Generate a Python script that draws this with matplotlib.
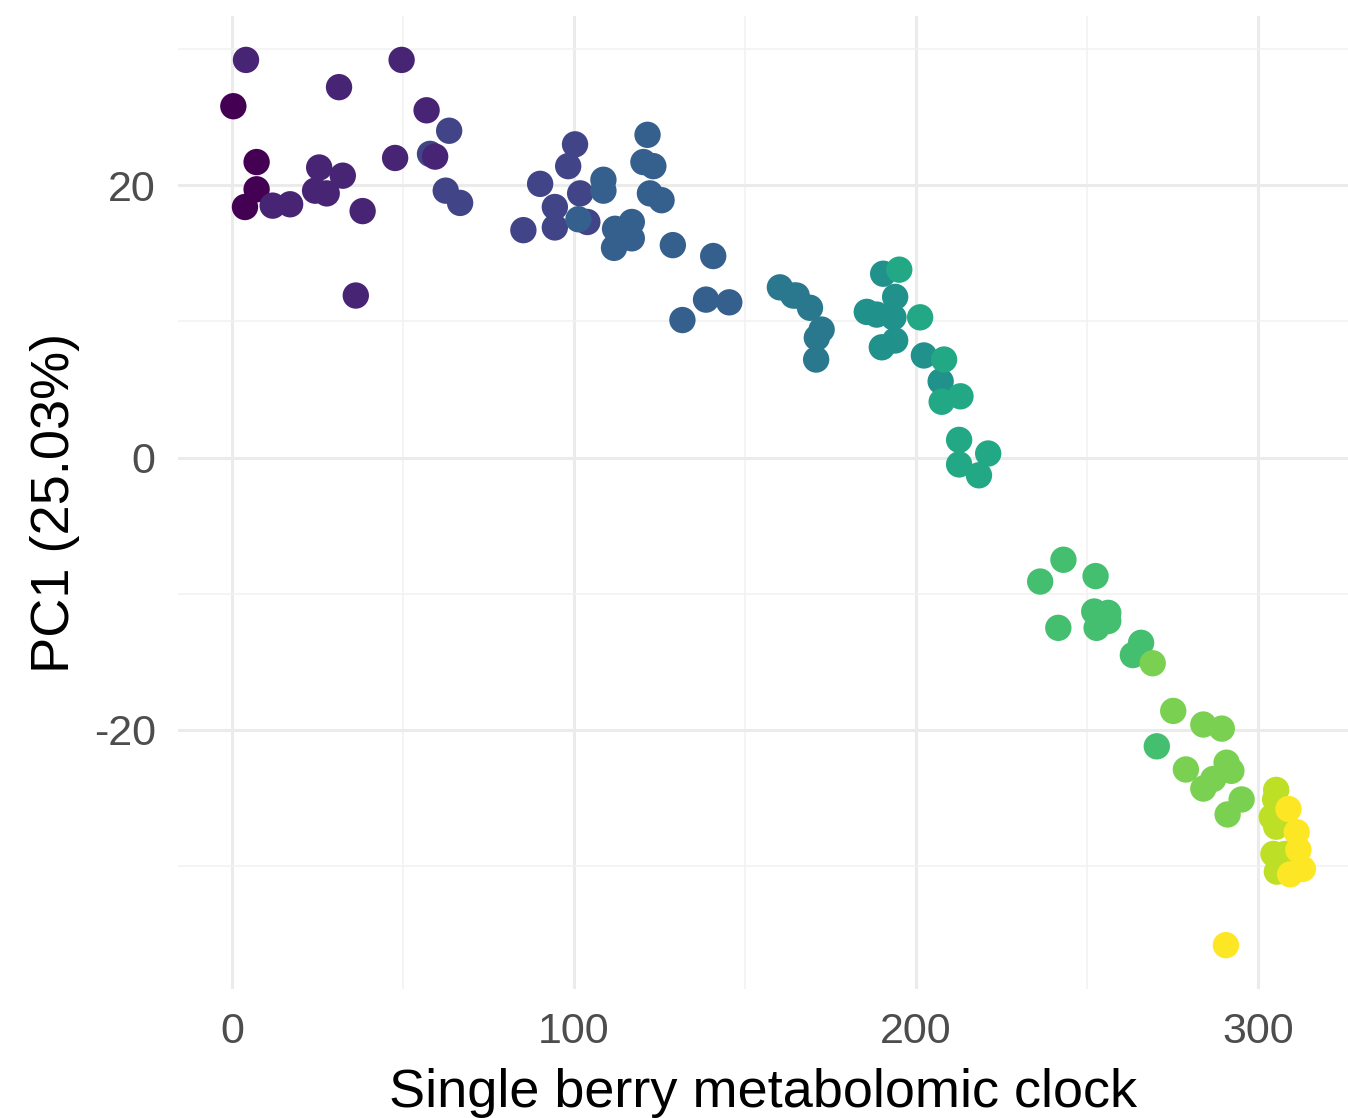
import matplotlib
matplotlib.use("Agg")
import matplotlib.pyplot as plt
import numpy as np

# metabolomic clock (x), PC1 score (y), colour level 0..10
clock = [
    4.1, 0.4, 49.6, 31.3, 56.9, 63.5, 57.9, 59.4, 47.7, 7.2,
    25.5, 32.4, 24.3, 27.7, 7.2, 3.8, 11.9, 17.0, 38.2, 62.5,
    66.7, 36.2,
    100.3, 98.3, 90.1, 101.8, 94.4, 94.4, 85.2, 103.9,
    108.6, 108.6, 101.3, 121.5, 120.3, 123.2, 122.2, 125.6, 112.0, 116.9,
    116.9, 111.7, 128.9, 140.7, 138.6, 145.4, 131.7,
    160.2, 164.1, 165.1, 169.0, 172.4, 171.0, 170.8,
    190.4, 193.9, 185.6, 188.5, 193.4, 190.0, 193.9, 202.3, 207.2,
    195.1, 201.2, 208.2, 207.5, 213.0, 212.6, 212.6, 218.4, 221.1,
    236.3, 243.1, 252.5, 241.6, 252.1, 256.2, 252.8, 256.2, 265.8, 263.4, 270.4,
    269.2, 275.2, 284.0, 289.4, 278.9, 290.8, 292.2, 284.0, 286.9, 295.2, 291.1,
    305.3, 305.0, 304.0, 305.3, 304.5, 307.9, 305.5,
    290.6, 308.9, 311.3, 311.8, 313.1, 309.4,
]
pc1 = [
    29.2, 25.8, 29.2, 27.2, 25.5, 24.0, 22.3, 22.1, 22.0, 21.7,
    21.3, 20.7, 19.6, 19.4, 19.7, 18.4, 18.5, 18.6, 18.1, 19.6,
    18.7, 11.9,
    23.0, 21.4, 20.1, 19.4, 18.4, 16.9, 16.7, 17.3,
    20.4, 19.6, 17.5, 23.7, 21.7, 21.4, 19.4, 18.9, 16.8, 17.3,
    16.1, 15.4, 15.6, 14.8, 11.6, 11.4, 10.1,
    12.5, 11.9, 11.9, 11.0, 9.4, 8.8, 7.2,
    13.5, 11.8, 10.7, 10.5, 10.3, 8.1, 8.6, 7.5, 5.6,
    13.8, 10.3, 7.2, 4.1, 4.5, 1.3, -0.5, -1.3, 0.3,
    -9.1, -7.5, -8.7, -12.5, -11.3, -11.4, -12.5, -12.0, -13.6, -14.5, -21.2,
    -15.1, -18.6, -19.6, -19.9, -22.9, -22.4, -23.0, -24.3, -23.6, -25.1, -26.2,
    -24.4, -25.1, -26.4, -27.1, -29.1, -29.1, -30.4,
    -35.8, -25.8, -27.5, -28.8, -30.2, -30.6,
]
level = [
    1, 0, 1, 1, 1, 2, 2, 1, 1, 0,
    1, 1, 1, 1, 0, 0, 1, 1, 1, 2,
    2, 1,
    2, 2, 2, 2, 2, 2, 2, 2,
    3, 3, 3, 3, 3, 3, 3, 3, 3, 3,
    3, 3, 3, 3, 3, 3, 3,
    4, 4, 4, 4, 4, 4, 4,
    5, 5, 5, 5, 5, 5, 5, 5, 5,
    6, 6, 6, 6, 6, 6, 6, 6, 6,
    7, 7, 7, 7, 7, 7, 7, 7, 7, 7, 7,
    8, 8, 8, 8, 8, 8, 8, 8, 8, 8, 8,
    9, 9, 9, 9, 9, 9, 9,
    10, 10, 10, 10, 10, 10,
]

plt.rcParams['font.family'] = ['Liberation Sans', 'DejaVu Sans']
plt.rcParams['axes.unicode_minus'] = False

fig = plt.figure(figsize=(13.48, 11.18), dpi=100)
ax = fig.add_axes([0.132, 0.115, 0.868, 0.871])

colors = plt.cm.viridis(np.array(level) / 10.0)
ax.scatter(clock, pc1, c=colors, s=360, edgecolors='none', zorder=3)

ax.set_xlim(-15.8, 326.3)
ax.set_ylim(-39.05, 32.45)
ax.set_xticks([0, 100, 200, 300])
ax.set_yticks([-20, 0, 20])
ax.set_xticks([50, 150, 250], minor=True)
ax.set_yticks([-30, -10, 10, 30], minor=True)

ax.grid(True, which='major', color='#ebebeb', linewidth=2.2, zorder=0)
ax.grid(True, which='minor', color='#f2f2f2', linewidth=1.2, zorder=0)
ax.set_axisbelow(True)
for sp in ax.spines.values():
    sp.set_visible(False)
ax.tick_params(which='both', length=0)
ax.tick_params(axis='x', labelsize=31, labelcolor='#4d4d4d', pad=16)
ax.tick_params(axis='y', labelsize=31, labelcolor='#4d4d4d', pad=16)

ax.set_xlabel('Single berry metabolomic clock', fontsize=39, color='black', labelpad=12)
ax.set_ylabel('PC1 (25.03%)', fontsize=39, color='black', labelpad=10)

fig.savefig('out.png', dpi=100)
